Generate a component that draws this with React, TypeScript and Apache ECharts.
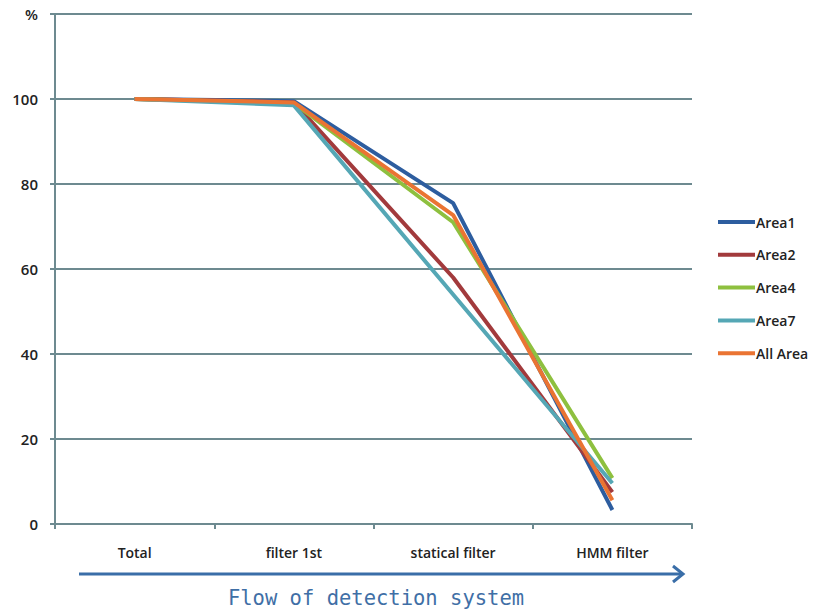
import React, { useEffect, useRef } from "react";
import * as echarts from "echarts";

const categories = ["Total", "filter 1st", "statical filter", "HMM filter"];
const area1 = [100, 99.5, 75.5, 3.3];
const area2 = [100, 99.2, 58, 7.5];
const area4 = [100, 99, 71, 10.8];
const area7 = [100, 98.5, 54, 9.6];
const allArea = [100, 99.2, 72.7, 5.6];
const seriesNames = ["Area1", "Area2", "Area4", "Area7", "All Area"];
const seriesColors = ["#2d5d9f", "#a23a3c", "#8ec03f", "#55a7b5", "#ea7433"];

export default function App() {
  const ref = useRef<HTMLDivElement>(null);
  useEffect(() => {
    if (!ref.current) return;
    const chart = echarts.init(ref.current, undefined, { renderer: "svg" });
    const data = [area1, area2, area4, area7, allArea];
    chart.setOption({
      animation: false,
      backgroundColor: "#ffffff",
      grid: { left: 55, right: 122, top: 14, bottom: 85 },
      legend: {
        orient: "vertical",
        left: 718,
        top: 215,
        padding: 0,
        itemWidth: 37,
        itemHeight: 4,
        itemGap: 18.8,
        icon: "rect",
        data: seriesNames,
        textStyle: { fontFamily: "Open Sans", fontSize: 14, fontWeight: 600, color: "#222", padding: [0, 0, 0, -4] },
      },
      xAxis: {
        type: "category",
        data: categories,
        boundaryGap: true,
        axisLine: { lineStyle: { color: "#6d8a90", width: 2 } },
        axisTick: { show: true, length: 5, lineStyle: { color: "#6d8a90", width: 2 } },
        axisLabel: { fontFamily: "Open Sans", fontSize: 14, fontWeight: 600, color: "#222", margin: 21 },
      },
      yAxis: {
        type: "value",
        min: 0,
        max: 120,
        interval: 20,
        axisLine: { show: true, lineStyle: { color: "#6d8a90", width: 2 } },
        axisTick: { show: true, length: 5, lineStyle: { color: "#6d8a90", width: 2 } },
        splitLine: { lineStyle: { color: "#6d8a90", width: 2 } },
        axisLabel: {
          fontFamily: "Open Sans",
          fontSize: 15,
          fontWeight: 600,
          color: "#222",
          margin: 17,
          formatter: (v: number) => (v === 120 ? "%" : String(v)),
        },
      },
      series: seriesNames.map((name, i) => ({
        name,
        type: "line",
        data: data[i],
        symbol: "none",
        color: seriesColors[i],
        lineStyle: { width: 4, color: seriesColors[i] },
        z: i === 4 ? 3 : 2,
      })),
      graphic: [
        {
          type: "line",
          shape: { x1: 79, y1: 574, x2: 682, y2: 574 },
          style: { stroke: "#3a6ea8", lineWidth: 3 },
        },
        {
          type: "polyline",
          shape: { points: [[673, 566], [683, 574], [673, 582]] },
          style: { stroke: "#3a6ea8", lineWidth: 3, fill: "none" },
        },
        {
          type: "text",
          x: 376,
          y: 598,
          style: {
            text: "Flow of detection system",
            fontFamily: "DejaVu Sans Mono",
            fontSize: 20.5,
            fill: "#3f6fa6",
            align: "center",
            verticalAlign: "middle",
          },
        },
      ],
    });
    return () => chart.dispose();
  }, []);
  return <div ref={ref} style={{ width: 814, height: 609, position: "absolute", left: 0, top: 0 }} />;
}
